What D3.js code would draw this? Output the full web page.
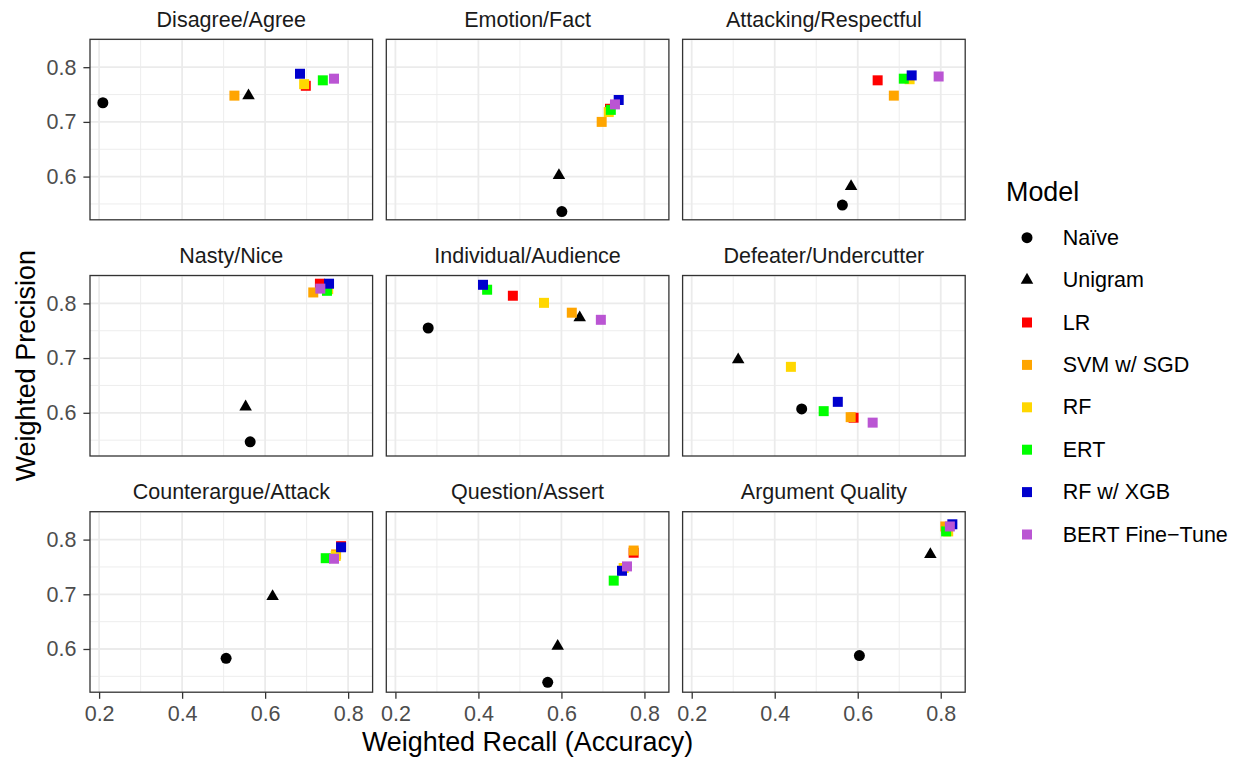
<!DOCTYPE html>
<html>
<head>
<meta charset="utf-8">
<script src="https://cdn.jsdelivr.net/npm/d3@7"></script>
<style>
  body { margin: 0; background: #fff; }
  svg { display: block; font-family: "Liberation Sans", Arial, sans-serif; }
</style>
</head>
<body>
<svg id="chart" width="1239" height="757"></svg>
<script>
var width = 1239, height = 757

var facets = ["Disagree/Agree", "Emotion/Fact", "Attacking/Respectful",
              "Nasty/Nice", "Individual/Audience", "Defeater/Undercutter",
              "Counterargue/Attack", "Question/Assert", "Argument Quality"]

var models = ["Naïve", "Unigram", "LR", "SVM w/ SGD", "RF", "ERT", "RF w/ XGB", "BERT Fine−Tune"]

// weighted recall per facet, in model order
var recall = [
  [0.209, 0.560, 0.698, 0.526, 0.694, 0.739, 0.684, 0.766],
  [0.601, 0.594, 0.717, 0.697, 0.714, 0.719, 0.738, 0.729],
  [0.563, 0.584, 0.648, 0.687, 0.725, 0.711, 0.730, 0.795],
  [0.564, 0.553, 0.732, 0.716, 0.752, 0.749, 0.754, 0.733],
  [0.279, 0.644, 0.483, 0.625, 0.558, 0.421, 0.411, 0.695],
  [0.465, 0.312, 0.590, 0.583, 0.439, 0.518, 0.552, 0.636],
  [0.506, 0.618, 0.783, 0.771, 0.770, 0.746, 0.783, 0.766],
  [0.567, 0.591, 0.774, 0.774, 0.750, 0.726, 0.746, 0.758],
  [0.604, 0.775, 0.814, 0.811, 0.818, 0.813, 0.828, 0.822]
]

// weighted precision per facet, in model order
var precision = [
  [0.735, 0.748, 0.766, 0.748, 0.769, 0.776, 0.788, 0.779],
  [0.536, 0.602, 0.724, 0.700, 0.718, 0.722, 0.740, 0.732],
  [0.548, 0.582, 0.776, 0.748, 0.778, 0.779, 0.785, 0.783],
  [0.547, 0.611, 0.836, 0.820, 0.826, 0.823, 0.836, 0.827],
  [0.755, 0.774, 0.814, 0.783, 0.801, 0.825, 0.834, 0.770],
  [0.607, 0.697, 0.591, 0.592, 0.684, 0.603, 0.620, 0.582],
  [0.583, 0.696, 0.788, 0.773, 0.770, 0.766, 0.786, 0.765],
  [0.539, 0.605, 0.776, 0.780, 0.748, 0.725, 0.743, 0.751],
  [0.588, 0.773, 0.820, 0.824, 0.815, 0.815, 0.828, 0.824]
]

var xTicks = [0.2, 0.4, 0.6, 0.8]
var yTicks = [0.6, 0.7, 0.8]

var modelColors = ["black", "black", "#ff0000", "#ffa500", "#ffd700", "#00ff00", "#0000cd", "#ba55d3"]

var panelW = 282.6, panelH = 180.5
var left0 = 90, top0 = 39.3, colStep = 296.3, rowStep = 236.2
var tickLen = 6.6
var smallFont = 21.5, bigFont = 26.9

var svg = d3.select('#chart')

var rows = []
facets.forEach((f, i) => {
  models.forEach((m, j) => {
    rows.push({facet: f, fi: i, model: m, mi: j, x: recall[i][j], y: precision[i][j]})
  })
})

function expand(ext) {
  var pad = (ext[1] - ext[0]) * 0.05
  return [ext[0] - pad, ext[1] + pad]
}

var x = d3.scaleLinear().domain(expand(d3.extent(rows, d => d.x))).range([0, panelW])
var y = d3.scaleLinear().domain(expand(d3.extent(rows, d => d.y))).range([panelH, 0])

var color = d3.scaleOrdinal().domain(models).range(modelColors)

var symbolType = d3.scaleOrdinal().domain(models)
  .range([d3.symbolCircle, d3.symbolTriangle].concat(models.slice(2).map(() => d3.symbolSquare)))
var symbolSize = d3.scaleOrdinal().domain(models)
  .range([95, 68].concat(models.slice(2).map(() => 100)))

function sym(m) {
  return d3.symbol().type(symbolType(m)).size(symbolSize(m))()
}

// minor breaks sit half way between majors
function minors(major, dom) {
  var step = major[1] - major[0]
  var out = []
  for (var v = major[0] - step / 2; v <= major[major.length - 1] + step / 2 + 1e-9; v += step) {
    if (v >= dom[0] && v <= dom[1]) out.push(+v.toFixed(4))
  }
  return out
}
var xMinor = minors(xTicks, x.domain())
var yMinor = minors(yTicks, y.domain())

facets.forEach((f, i) => {
  var col = i % 3, row = Math.floor(i / 3)
  var g = svg.append('g')
    .attr('transform', `translate(${left0 + col * colStep},${top0 + row * rowStep})`)

  g.append('rect')
    .attr('width', panelW).attr('height', panelH)
    .attr('fill', 'white')

  // grid
  g.selectAll('.xminor').data(xMinor).enter().append('line')
    .attr('x1', d => x(d)).attr('x2', d => x(d))
    .attr('y1', 0).attr('y2', panelH)
    .attr('stroke', '#ebebeb').attr('stroke-width', 0.9)
  g.selectAll('.yminor').data(yMinor).enter().append('line')
    .attr('y1', d => y(d)).attr('y2', d => y(d))
    .attr('x1', 0).attr('x2', panelW)
    .attr('stroke', '#ebebeb').attr('stroke-width', 0.9)
  g.selectAll('.xmajor').data(xTicks).enter().append('line')
    .attr('x1', d => x(d)).attr('x2', d => x(d))
    .attr('y1', 0).attr('y2', panelH)
    .attr('stroke', '#ebebeb').attr('stroke-width', 1.8)
  g.selectAll('.ymajor').data(yTicks).enter().append('line')
    .attr('y1', d => y(d)).attr('y2', d => y(d))
    .attr('x1', 0).attr('x2', panelW)
    .attr('stroke', '#ebebeb').attr('stroke-width', 1.8)

  // points
  g.selectAll('path.pt')
    .data(rows.filter(d => d.fi === i))
    .enter().append('path')
    .attr('class', 'pt')
    .attr('d', d => sym(d.model))
    .attr('transform', d => `translate(${x(d.x)},${y(d.y)})`)
    .attr('fill', d => color(d.model))

  g.append('rect')
    .attr('width', panelW).attr('height', panelH)
    .attr('fill', 'none').attr('stroke', '#333333').attr('stroke-width', 1.3)

  // strip title
  g.append('text')
    .attr('x', panelW / 2).attr('y', -19.5)
    .attr('text-anchor', 'middle').attr('dominant-baseline', 'central')
    .attr('fill', '#1a1a1a').style('font-size', smallFont + 'px')
    .text(f)

  if (col === 0) {
    var ay = g.append('g')
      .call(d3.axisLeft(y).tickValues(yTicks).tickSize(tickLen).tickPadding(7).tickFormat(d3.format('.1f')))
    ay.select('.domain').remove()
    ay.selectAll('line').attr('stroke', '#333333').attr('stroke-width', 1.3)
    ay.selectAll('text').attr('fill', '#4d4d4d').style('font-size', smallFont + 'px')
      .style('font-family', '"Liberation Sans", Arial, sans-serif')
  }
  if (row === 2) {
    var ax = g.append('g').attr('transform', `translate(0,${panelH})`)
      .call(d3.axisBottom(x).tickValues(xTicks).tickSize(tickLen).tickPadding(7).tickFormat(d3.format('.1f')))
    ax.select('.domain').remove()
    ax.selectAll('line').attr('stroke', '#333333').attr('stroke-width', 1.3)
    ax.selectAll('text').attr('fill', '#4d4d4d').style('font-size', smallFont + 'px')
      .style('font-family', '"Liberation Sans", Arial, sans-serif')
  }
})

// axis titles
svg.append('text')
  .attr('x', left0 + (2 * colStep + panelW) / 2).attr('y', 742)
  .attr('text-anchor', 'middle').attr('dominant-baseline', 'central')
  .style('font-size', bigFont + 'px')
  .text('Weighted Recall (Accuracy)')

svg.append('text')
  .attr('transform', `translate(26,${top0 + (2 * rowStep + panelH) / 2}) rotate(-90)`)
  .attr('text-anchor', 'middle').attr('dominant-baseline', 'central')
  .style('font-size', bigFont + 'px')
  .text('Weighted Precision')

// legend
var legend = svg.append('g').attr('transform', 'translate(1006,0)')
legend.append('text')
  .attr('x', 0).attr('y', 191.7)
  .attr('dominant-baseline', 'central')
  .style('font-size', bigFont + 'px')
  .text('Model')

var item = legend.selectAll('g.item').data(models).enter().append('g')
  .attr('class', 'item')
  .attr('transform', (d, i) => `translate(0,${237.7 + i * 42.4})`)
item.append('path')
  .attr('d', d => sym(d))
  .attr('transform', 'translate(21,0)')
  .attr('fill', d => color(d))
item.append('text')
  .attr('x', 56.7).attr('y', 0)
  .attr('dominant-baseline', 'central')
  .style('font-size', smallFont + 'px')
  .text(d => d)
</script>
</body>
</html>
